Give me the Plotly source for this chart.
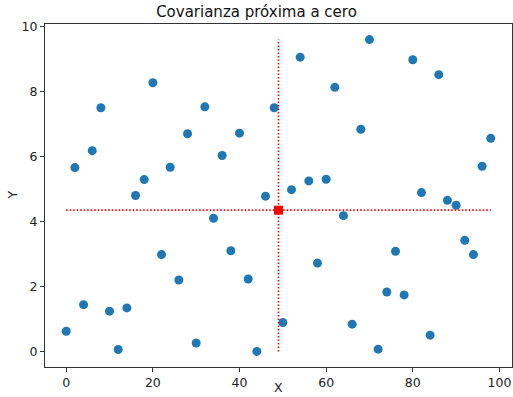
import plotly.graph_objects as go
import numpy as np

x_vals = list(range(0, 100, 2))
y_vals = [0.62, 5.66, 1.44, 6.18, 7.5, 1.24, 0.06, 1.34, 4.8, 5.29,
          8.27, 2.98, 5.67, 2.2, 6.7, 0.26, 7.53, 4.1, 6.03, 3.1,
          6.72, 2.23, 0.0, 4.78, 7.5, 0.89, 4.98, 9.06, 5.25, 2.72,
          5.3, 8.13, 4.18, 0.84, 6.84, 9.6, 0.07, 1.83, 3.08, 1.74,
          8.98, 4.89, 0.5, 8.52, 4.65, 4.5, 3.42, 2.98, 5.7, 6.56]

title = "Covarianza próxima a cero"
x_label = "X"
y_label = "Y"

mx = float(np.mean(x_vals))
my = float(np.mean(y_vals))

fig = go.Figure()
fig.add_trace(go.Scatter(x=x_vals, y=y_vals, mode="markers",
                         marker=dict(color="#1f77b4", size=9), showlegend=False))
fig.add_trace(go.Scatter(x=[min(x_vals), max(x_vals)], y=[my, my], mode="lines",
                         line=dict(color="red", dash="1.5px,2px", width=1.6), showlegend=False))
fig.add_trace(go.Scatter(x=[mx, mx], y=[min(y_vals), max(y_vals)], mode="lines",
                         line=dict(color="red", dash="1.5px,2px", width=1.6), showlegend=False))
fig.add_trace(go.Scatter(x=[mx], y=[my], mode="markers",
                         marker=dict(color="red", size=9, symbol="square"), showlegend=False))

axis_common = dict(showline=True, mirror=True, linecolor="#333", linewidth=1,
                   ticks="outside", ticklen=4, tickcolor="#333", showgrid=False,
                   zeroline=False, automargin=False,
                   tickfont=dict(size=12.5, color="#222"))

fig.update_layout(
    width=513, height=397,
    margin=dict(l=45, r=1, t=24, b=30),
    plot_bgcolor="white", paper_bgcolor="white",
    font=dict(family="DejaVu Sans", color="#222"),
    title=dict(text=title, x=0.5, xanchor="center", y=1 - 6 / 397, yanchor="top",
               font=dict(size=15, color="#111")),
    xaxis=dict(range=[-4.9, 102.9], tickvals=[0, 20, 40, 60, 80, 100], **axis_common),
    yaxis=dict(range=[-0.48, 10.08], tickvals=[0, 2, 4, 6, 8, 10], **axis_common),
    annotations=[
        dict(text=x_label, xref="paper", yref="paper", x=0.5, y=-20.5 / 343,
             xanchor="center", yanchor="middle", showarrow=False, borderpad=0,
             font=dict(size=12.5, color="#222")),
        dict(text=y_label, xref="paper", yref="paper", x=-33 / 467, y=0.5,
             xanchor="center", yanchor="middle", showarrow=False, textangle=-90,
             font=dict(size=12.5, color="#222")),
    ],
)

fig.write_html("out.html")
